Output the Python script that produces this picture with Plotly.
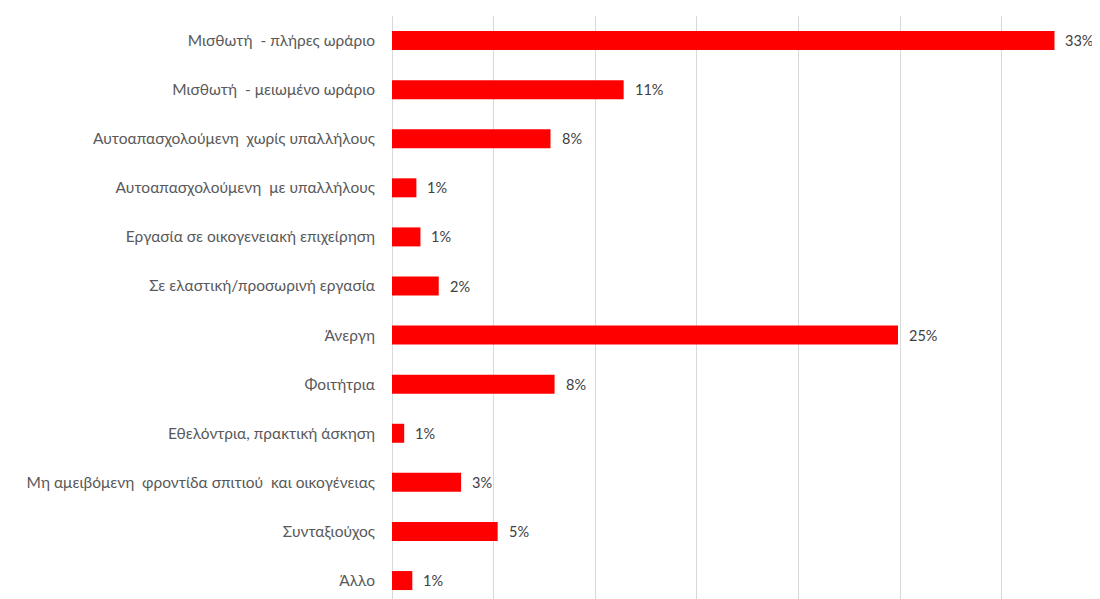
import plotly.graph_objects as go

categories = [
    "Μισθωτή  - πλήρες ωράριο",
    "Μισθωτή  - μειωμένο ωράριο",
    "Αυτοαπασχολούμενη  χωρίς υπαλλήλους",
    "Αυτοαπασχολούμενη  με υπαλλήλους",
    "Εργασία σε οικογενειακή επιχείρηση",
    "Σε ελαστική/προσωρινή εργασία",
    "Άνεργη",
    "Φοιτήτρια",
    "Εθελόντρια, πρακτική άσκηση",
    "Μη αμειβόμενη  φροντίδα σπιτιού  και οικογένειας",
    "Συνταξιούχος",
    "Άλλο",
]
values = [32.6, 11.4, 7.8, 1.2, 1.4, 2.3, 24.9, 8.0, 0.6, 3.4, 5.2, 1.0]
value_labels = ["33%", "11%", "8%", "1%", "1%", "2%", "25%", "8%", "1%", "3%", "5%", "1%"]

FONT = "Lato, 'Open Sans', sans-serif"

fig = go.Figure()
fig.add_trace(go.Bar(
    x=values,
    y=categories,
    orientation="h",
    marker=dict(color="#ff0000", line=dict(width=0)),
    hoverinfo="x+y",
))

for c, v, t in zip(categories, values, value_labels):
    fig.add_annotation(
        x=v, y=c, text=t, showarrow=False,
        xanchor="left", yanchor="middle", xshift=9,
        font=dict(family=FONT, size=14.5, color="#404040"),
    )

fig.update_layout(
    width=1092, height=591,
    margin=dict(l=384, r=0, t=8, b=0, autoexpand=False),
    paper_bgcolor="white", plot_bgcolor="white",
    bargap=0.613,
    showlegend=False,
    font=dict(family=FONT, size=15, color="#595959"),
)
fig.update_xaxes(
    range=[0, 34.84], dtick=5, showgrid=True, gridcolor="#d9d9d9", gridwidth=1,
    showticklabels=False, zeroline=True, zerolinecolor="#d9d9d9", zerolinewidth=1,
    showline=False, fixedrange=True,
)
fig.update_yaxes(
    type="category", categoryorder="array", categoryarray=list(reversed(categories)),
    range=[-0.376, 11.5], showgrid=False, zeroline=False, showline=False,
    ticks="", ticklabelstandoff=16, automargin=False,
    tickfont=dict(family=FONT, size=15.5, color="#595959"),
)

fig.write_html("out.html")
